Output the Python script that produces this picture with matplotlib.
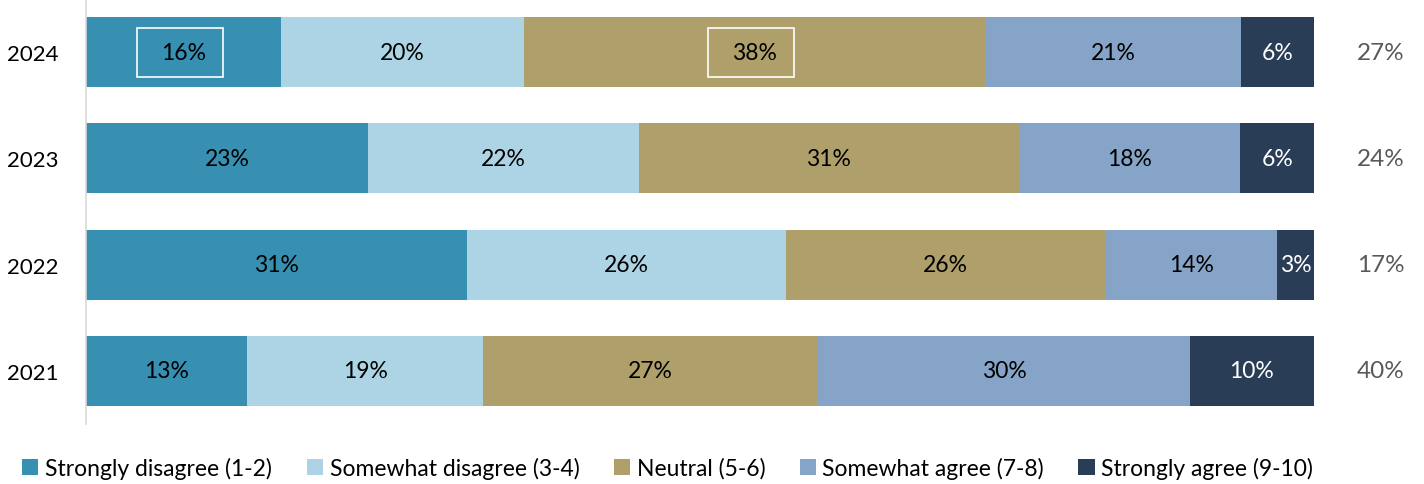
import numpy as np
import matplotlib.pyplot as plt
from matplotlib.patches import Rectangle

plt.rcParams['font.family'] = ['Lato', 'DejaVu Sans']

years = ["2024", "2023", "2022", "2021"]
categories = [
    "Strongly disagree (1-2)",
    "Somewhat disagree (3-4)",
    "Neutral (5-6)",
    "Somewhat agree (7-8)",
    "Strongly agree (9-10)",
]
strongly_disagree = [16, 23, 31, 13]
somewhat_disagree = [20, 22, 26, 19]
neutral = [38, 31, 26, 27]
somewhat_agree = [21, 18, 14, 30]
strongly_agree = [6, 6, 3, 10]
agree_total = ["27%", "24%", "17%", "40%"]

colors = ["#378fb1", "#add4e4", "#afa06b", "#85a4c7", "#293d57"]
text_colors = ["black", "black", "black", "black", "white"]

series = np.array([strongly_disagree, somewhat_disagree, neutral,
                   somewhat_agree, strongly_agree], dtype=float)
# each row spans the full width, so rescale to the row total
shares = series / series.sum(axis=0) * 100

fig = plt.figure(figsize=(14.24, 4.85), dpi=100)
ax = fig.add_axes([86 / 1424, 60 / 485, 1228 / 1424, 425 / 485])

ypos = np.arange(len(years))[::-1]
left = np.zeros(len(years))
for i, cat in enumerate(categories):
    bars = ax.barh(ypos, shares[i], left=left, height=0.66,
                   color=colors[i], label=cat, edgecolor='none')
    for j, b in enumerate(bars):
        cx = left[j] + shares[i][j] / 2
        ax.text(cx, ypos[j], f"{int(series[i][j])}%", ha='center',
                va='center', fontsize=16.5, color=text_colors[i])
    left += shares[i]

# highlight boxes around two of the 2024 labels
for seg in (0, 2):
    start = shares[:seg, 0].sum()
    cx = start + shares[seg, 0] / 2
    w, h = 7.0, 0.46
    ax.add_patch(Rectangle((cx - w / 2 - 0.3, ypos[0] - h / 2), w, h,
                           fill=False, edgecolor='white', lw=1.2, zorder=3))

for j, lab in enumerate(agree_total):
    ax.text(1.0545, ypos[j], lab, transform=ax.get_yaxis_transform(),
            ha='center', va='center', fontsize=17.5, color='#595959')

ax.set_xlim(0, 100)
ax.set_ylim(-0.5, len(years) - 0.5)
ax.set_yticks(ypos)
ax.set_yticklabels(years, fontsize=16)
ax.tick_params(axis='y', length=0, pad=19.5)
ax.set_xticks([])
for side in ('top', 'right', 'bottom'):
    ax.spines[side].set_visible(False)
ax.spines['left'].set_color('#d9d9d9')
ax.spines['left'].set_linewidth(1.2)

fig.legend(loc='center', bbox_to_anchor=(0.469, 1 - 469 / 485),
           ncol=5, frameon=False, fontsize=16.5, handlelength=0.7,
           handleheight=0.7, handletextpad=0.3, columnspacing=1.5)

fig.savefig("out.png", dpi=100)
